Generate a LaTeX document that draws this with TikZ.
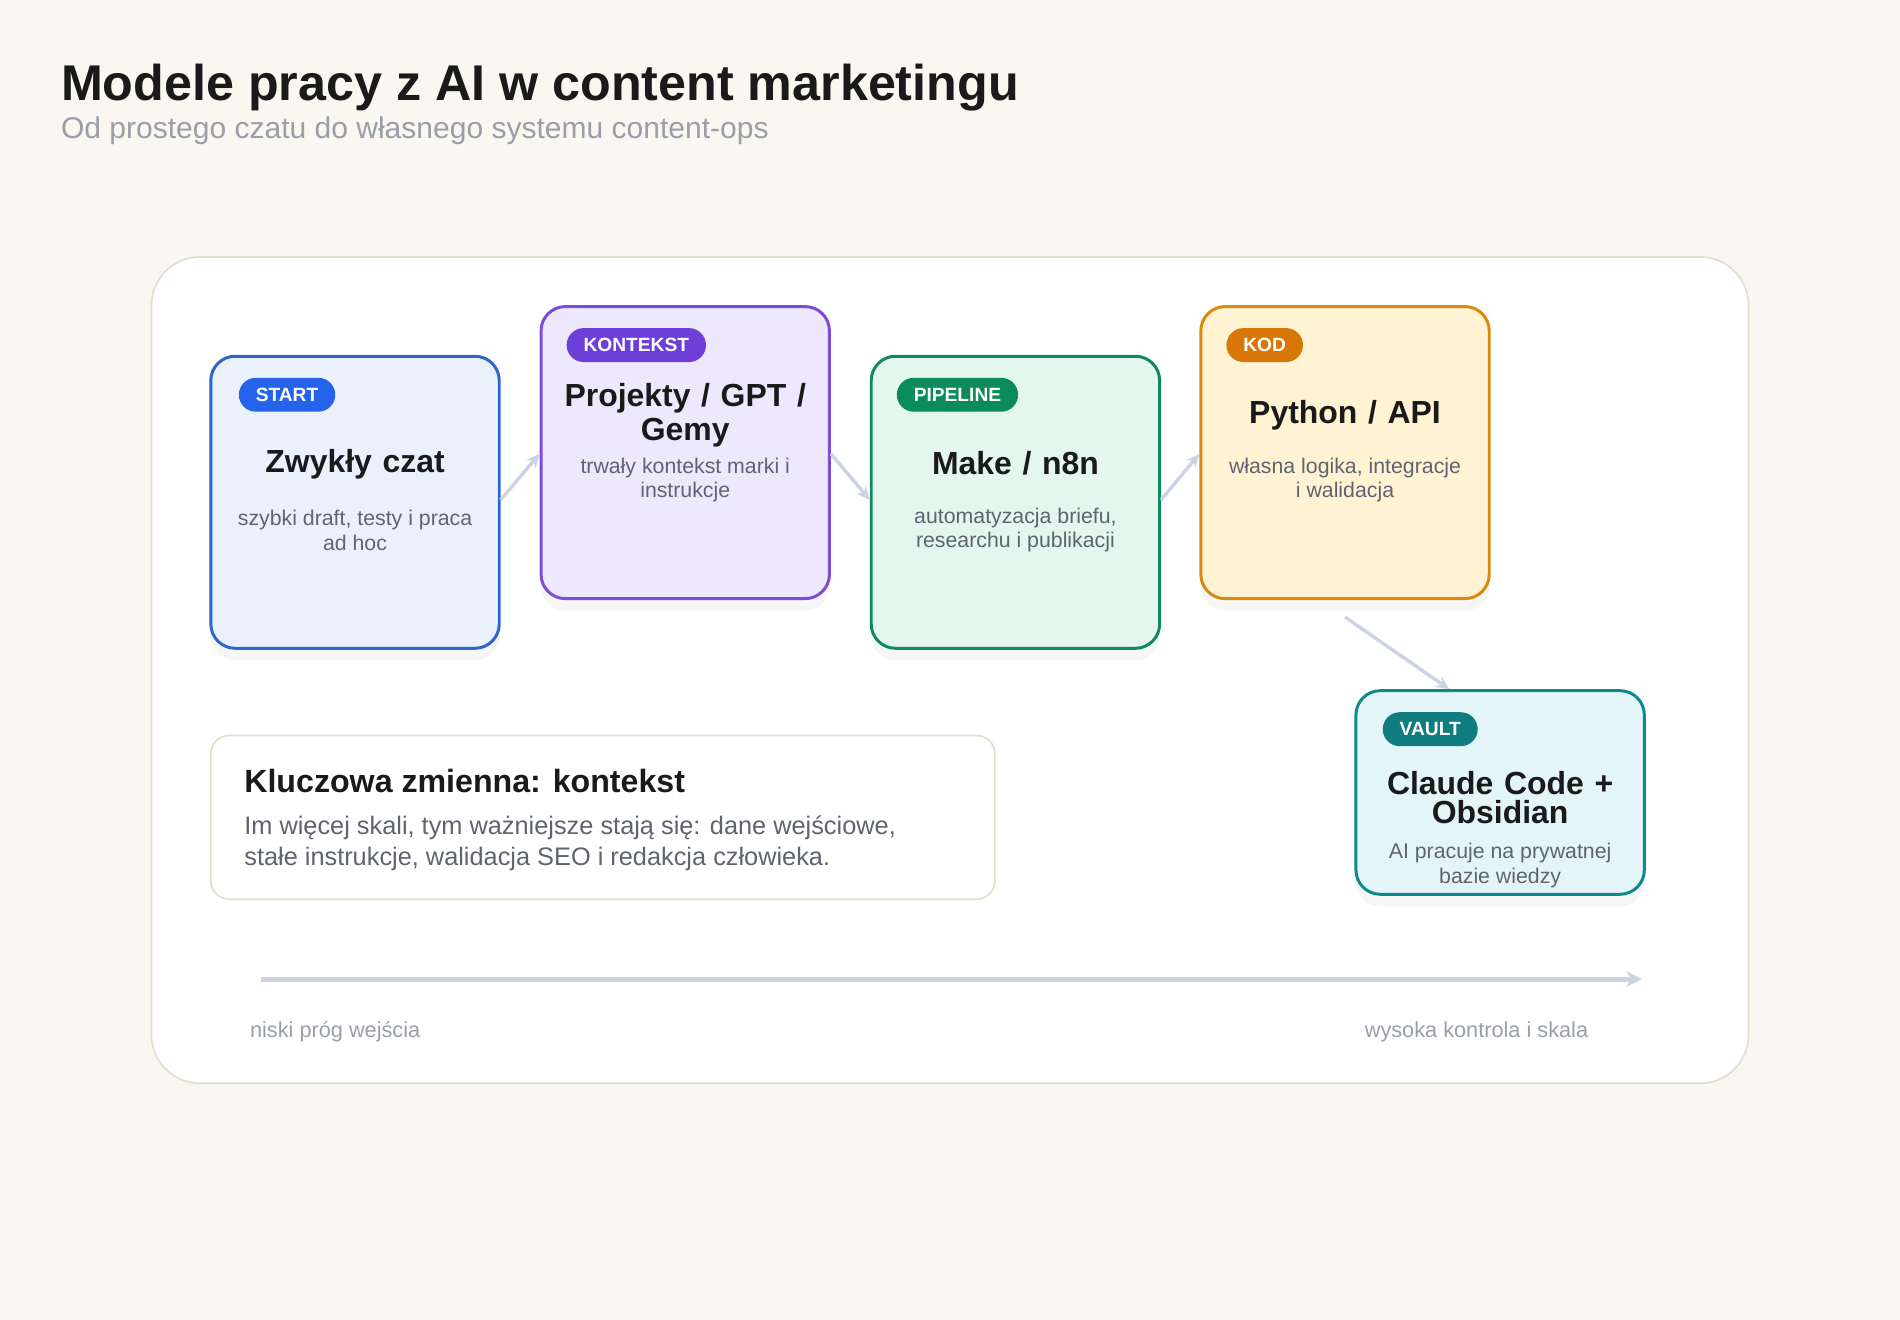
\documentclass[tikz,border=0pt]{standalone}
\usepackage{fontspec}
\setmainfont{Liberation Sans}
\usetikzlibrary{shadows,arrows.meta}
\definecolor{pageBg}{HTML}{F9F7F0}
\definecolor{frameLine}{HTML}{E2DFCC}
\definecolor{inkDark}{HTML}{1A1A1A}
\definecolor{inkGray}{HTML}{5F6470}
\definecolor{inkLight}{HTML}{9A9EA8}
\definecolor{linkColor}{HTML}{CBD3E4}
\definecolor{startLine}{HTML}{2F66CC}\definecolor{startFill}{HTML}{EAF1FD}\definecolor{startTag}{HTML}{2563EB}
\definecolor{ctxLine}{HTML}{7B4DDA}\definecolor{ctxFill}{HTML}{EEE8FC}\definecolor{ctxTag}{HTML}{6D3FD8}
\definecolor{pipeLine}{HTML}{0E8A5F}\definecolor{pipeFill}{HTML}{E3F7EE}\definecolor{pipeTag}{HTML}{0B8A5A}
\definecolor{codeLine}{HTML}{D98A0B}\definecolor{codeFill}{HTML}{FFF3D4}\definecolor{codeTag}{HTML}{D97706}
\definecolor{vaultLine}{HTML}{0E8A8F}\definecolor{vaultFill}{HTML}{E3F5F6}\definecolor{vaultTag}{HTML}{0F7C80}

\begin{document}
\begin{tikzpicture}[x=0.2mm,y=-0.2mm,
  card/.style={draw=#1Line,fill=#1Fill,line width=1.4pt,rounded corners=4mm,
    minimum width=47.6mm,minimum height=48.2mm,
    drop shadow={opacity=0.07,shadow xshift=0mm,shadow yshift=-2mm}},
  tag/.style={fill=#1Tag,text=white,rounded corners=2.8mm,font=\fontsize{9}{10}\selectfont\bfseries,
    minimum height=5.6mm,inner xsep=2.8mm,anchor=west},
  cardTitle/.style={font=\fontsize{15}{16}\selectfont\bfseries,text=inkDark,align=center,text width=46mm,anchor=base},
  cardText/.style={font=\fontsize{10}{11.4}\selectfont,text=inkGray,align=center,inner sep=0,anchor=north},
  link/.style={linkColor,line width=1.6pt,-{Stealth[length=2.2mm,width=2mm]}},
  axisText/.style={font=\fontsize{10.2}{12}\selectfont,text=inkLight,inner sep=0}]
\fill[pageBg] (0,0) rectangle (1568,1089);
% header
\node[anchor=base west,font=\fontsize{23.6}{26}\selectfont\bfseries,text=inkDark,inner sep=0] (title) at (50,83) {Modele pracy z AI w content marketingu};
\node[anchor=base west,font=\fontsize{14.1}{16}\selectfont,text=inkLight,inner sep=0] (subtitle) at (50,114) {Od prostego czatu do własnego systemu content-ops};
% panel
\draw[frameLine,fill=white,line width=0.8pt,rounded corners=8mm] (125,212) rectangle (1443,894);
% cards
\node[card=start] (start) at (293,414.5) {};
\node[card=ctx] (ctx) at (565.5,373.5) {};
\node[card=pipe] (pipe) at (838,414.5) {};
\node[card=code] (code) at (1110,373.5) {};
\node[card=vault,minimum height=33.6mm] (vault) at (1238,654) {};
% tags
\node[tag=start] (startTag) at ([xshift=4.8mm,yshift=-6.6mm]start.north west) {START};
\node[tag=ctx] (ctxTag) at ([xshift=4.4mm,yshift=-6.6mm]ctx.north west) {KONTEKST};
\node[tag=pipe] (pipeTag) at ([xshift=4.4mm,yshift=-6.6mm]pipe.north west) {PIPELINE};
\node[tag=code] (codeTag) at ([xshift=4.4mm,yshift=-6.6mm]code.north west) {KOD};
\node[tag=vault] (vaultTag) at ([xshift=4.6mm,yshift=-6.6mm]vault.north west) {VAULT};
% titles
\node[cardTitle] (startTitle) at ([yshift=-19.4mm]start.north) {Zwykły czat};
\node[cardTitle] (ctxTitle) at ([yshift=-16.8mm]ctx.north) {Projekty / GPT /\\Gemy};
\node[cardTitle] (pipeTitle) at ([yshift=-19.8mm]pipe.north) {Make / n8n};
\node[cardTitle] (codeTitle) at ([yshift=-19.6mm]code.north) {Python / API};
\node[cardTitle,font=\fontsize{15}{13.6}\selectfont\bfseries] (vaultTitle) at ([yshift=-17.4mm]vault.north) {Claude Code +\\Obsidian};
% descriptions
\node[cardText] (startText) at ([yshift=-25.6mm]start.north) {szybki draft, testy i praca\\ad hoc};
\node[cardText] (ctxText) at ([yshift=-25.2mm]ctx.north) {trwały kontekst marki i\\instrukcje};
\node[cardText] (pipeText) at ([yshift=-25.2mm]pipe.north) {automatyzacja briefu,\\researchu i publikacji};
\node[cardText] (codeText) at ([yshift=-25.2mm]code.north) {własna logika, integracje\\i walidacja};
\node[cardText] (vaultText) at ([yshift=-25.4mm]vault.north) {AI pracuje na prywatnej\\bazie wiedzy};
% links
\draw[link] ([yshift=0.4mm]start.east) -- ([yshift=-0.2mm]ctx.west);
\draw[link] ([yshift=-0.2mm]ctx.east) -- ([yshift=0.4mm]pipe.west);
\draw[link] ([yshift=0.4mm]pipe.east) -- ([yshift=-0.2mm]code.west);
\draw[link] ([yshift=-2.8mm]code.south) -- ([xshift=-8.4mm]vault.north);
% key note
\node[draw=frameLine,fill=white,line width=0.8pt,rounded corners=3mm,minimum width=129.4mm,minimum height=27mm] (note) at (497.5,674.5) {};
\node[anchor=base west,font=\fontsize{15.1}{17}\selectfont\bfseries,text=inkDark,inner sep=0] (noteTitle) at ([xshift=5.6mm,yshift=-9.6mm]note.north west) {Kluczowa zmienna: kontekst};
\node[anchor=north west,align=left,font=\fontsize{11.9}{14.2}\selectfont,text=inkGray,inner sep=0] (noteText) at ([xshift=5.6mm,yshift=-13.4mm]note.north west) {Im więcej skali, tym ważniejsze stają się: dane wejściowe,\\stałe instrukcje, walidacja SEO i redakcja człowieka.};
% scale axis
\coordinate (axisLow) at (215,808);
\coordinate (axisHigh) at (1355,808);
\draw[linkColor,line width=2.4pt,-{Stealth[length=2.6mm,width=2.6mm]}] (axisLow) -- (axisHigh);
\node[axisText,anchor=base west] (lowLabel) at (206,856) {niski próg wejścia};
\node[axisText,anchor=base east] (highLabel) at (1311,856) {wysoka kontrola i skala};
\end{tikzpicture}
\end{document}
